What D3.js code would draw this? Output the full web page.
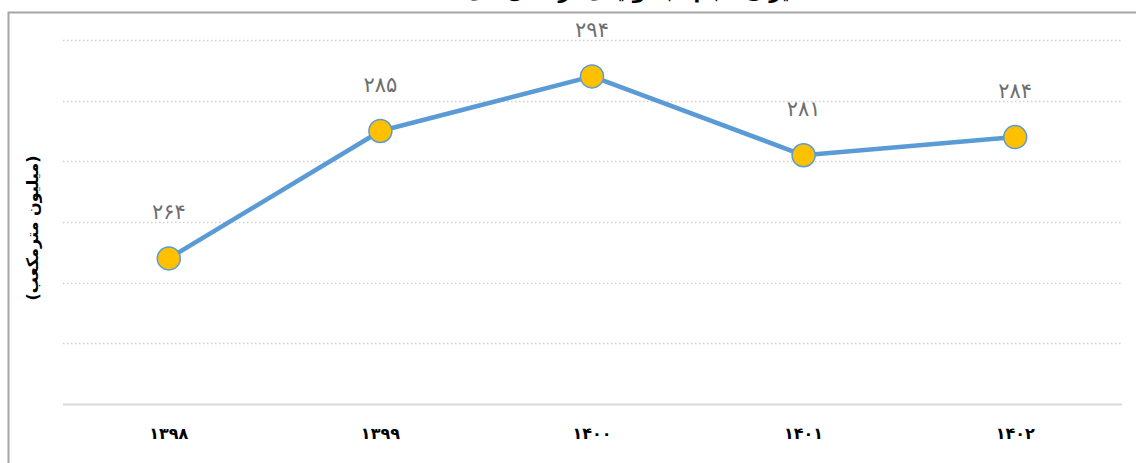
<!DOCTYPE html>
<html>
<head>
<meta charset="utf-8">
<script src="https://cdn.jsdelivr.net/npm/d3@7"></script>
<style>
  body { margin: 0; background: #fff; }
  svg { display: block; }
</style>
</head>
<body>
<div id="chart"></div>
<script>
// data
var years = ["۱۳۹۸", "۱۳۹۹", "۱۴۰۰", "۱۴۰۱", "۱۴۰۲"];
var values = [264, 285, 294, 281, 284];
var valueLabels = ["۲۶۴", "۲۸۵", "۲۹۴", "۲۸۱", "۲۸۴"];
var yTicks = [240, 250, 260, 270, 280, 290, 300];
var yTitle = "(میلیون مترمکعب)";
var chartTitle = "میزان حجم آب تولیدی در سال‌های ۱۳۹۸ تا ۱۴۰۲";

var width = 1136, height = 463;
var plot = { left: 63, right: 1121, top: 40, bottom: 404 };

var svg = d3.select("#chart").append("svg")
    .attr("width", width)
    .attr("height", height);

// frame of the chart area (only top and left edges show)
svg.append("path")
    .attr("d", "M8.5," + height + " V12.5 H" + width)
    .attr("fill", "none")
    .attr("stroke", "#a6a6a6")
    .attr("stroke-width", 2);

// title, mostly cut off at the top like in the source
svg.append("text")
    .attr("x", 568)
    .attr("y", -2)
    .attr("text-anchor", "middle")
    .attr("direction", "rtl")
    .style("font-family", "DejaVu Sans")
    .style("font-weight", "bold")
    .style("font-size", "20px")
    .text(chartTitle);

var x = d3.scaleBand()
    .domain(years)
    .range([plot.left, plot.right]);

var y = d3.scaleLinear()
    .domain([240, 300])
    .range([plot.bottom, plot.top]);

// dotted gridlines
svg.append("g")
    .selectAll("line")
    .data(yTicks.slice(1))
    .join("line")
    .attr("x1", plot.left)
    .attr("x2", plot.right)
    .attr("y1", function (d) { return Math.round(y(d)) + 0.5; })
    .attr("y2", function (d) { return Math.round(y(d)) + 0.5; })
    .attr("stroke", "#d0d0d0")
    .attr("stroke-width", 1.3)
    .attr("stroke-dasharray", "1.5,2.5");

// x axis
var xAxis = svg.append("g")
    .attr("transform", "translate(0," + plot.bottom + ")")
    .call(d3.axisBottom(x).tickSize(0).tickPadding(24));
xAxis.select(".domain")
    .attr("d", "M" + plot.left + ",0.5H" + (plot.right + 1))
    .attr("stroke", "#d9d9d9")
    .attr("stroke-width", 2);
xAxis.selectAll("text")
    .style("font-family", "DejaVu Sans")
    .style("font-weight", "bold")
    .style("font-size", "16px")
    .attr("fill", "#000");

// y title
svg.append("text")
    .attr("transform", "translate(33,228) rotate(-90)")
    .attr("text-anchor", "middle")
    .attr("dominant-baseline", "middle")
    .attr("direction", "rtl")
    .style("font-family", "DejaVu Sans")
    .style("font-weight", "bold")
    .style("font-size", "16px")
    .text(yTitle);

var line = d3.line()
    .x(function (d, i) { return x(years[i]) + x.bandwidth() / 2; })
    .y(function (d) { return y(d); });

svg.append("path")
    .datum(values)
    .attr("d", line)
    .attr("fill", "none")
    .attr("stroke", "#5b9bd5")
    .attr("stroke-width", 4.5)
    .attr("stroke-linejoin", "round");

svg.append("g")
    .selectAll("circle")
    .data(values)
    .join("circle")
    .attr("cx", function (d, i) { return x(years[i]) + x.bandwidth() / 2; })
    .attr("cy", function (d) { return y(d); })
    .attr("r", 11.5)
    .attr("fill", "#ffc000")
    .attr("stroke", "#5b9bd5")
    .attr("stroke-width", 1.5);

svg.append("g")
    .selectAll("text")
    .data(values)
    .join("text")
    .attr("x", function (d, i) { return x(years[i]) + x.bandwidth() / 2; })
    .attr("y", function (d) { return y(d) - 45; })
    .attr("text-anchor", "middle")
    .attr("dominant-baseline", "middle")
    .style("font-family", "DejaVu Sans")
    .style("font-size", "21px")
    .attr("fill", "#6e6e6e")
    .text(function (d, i) { return valueLabels[i]; });
</script>
</body>
</html>
